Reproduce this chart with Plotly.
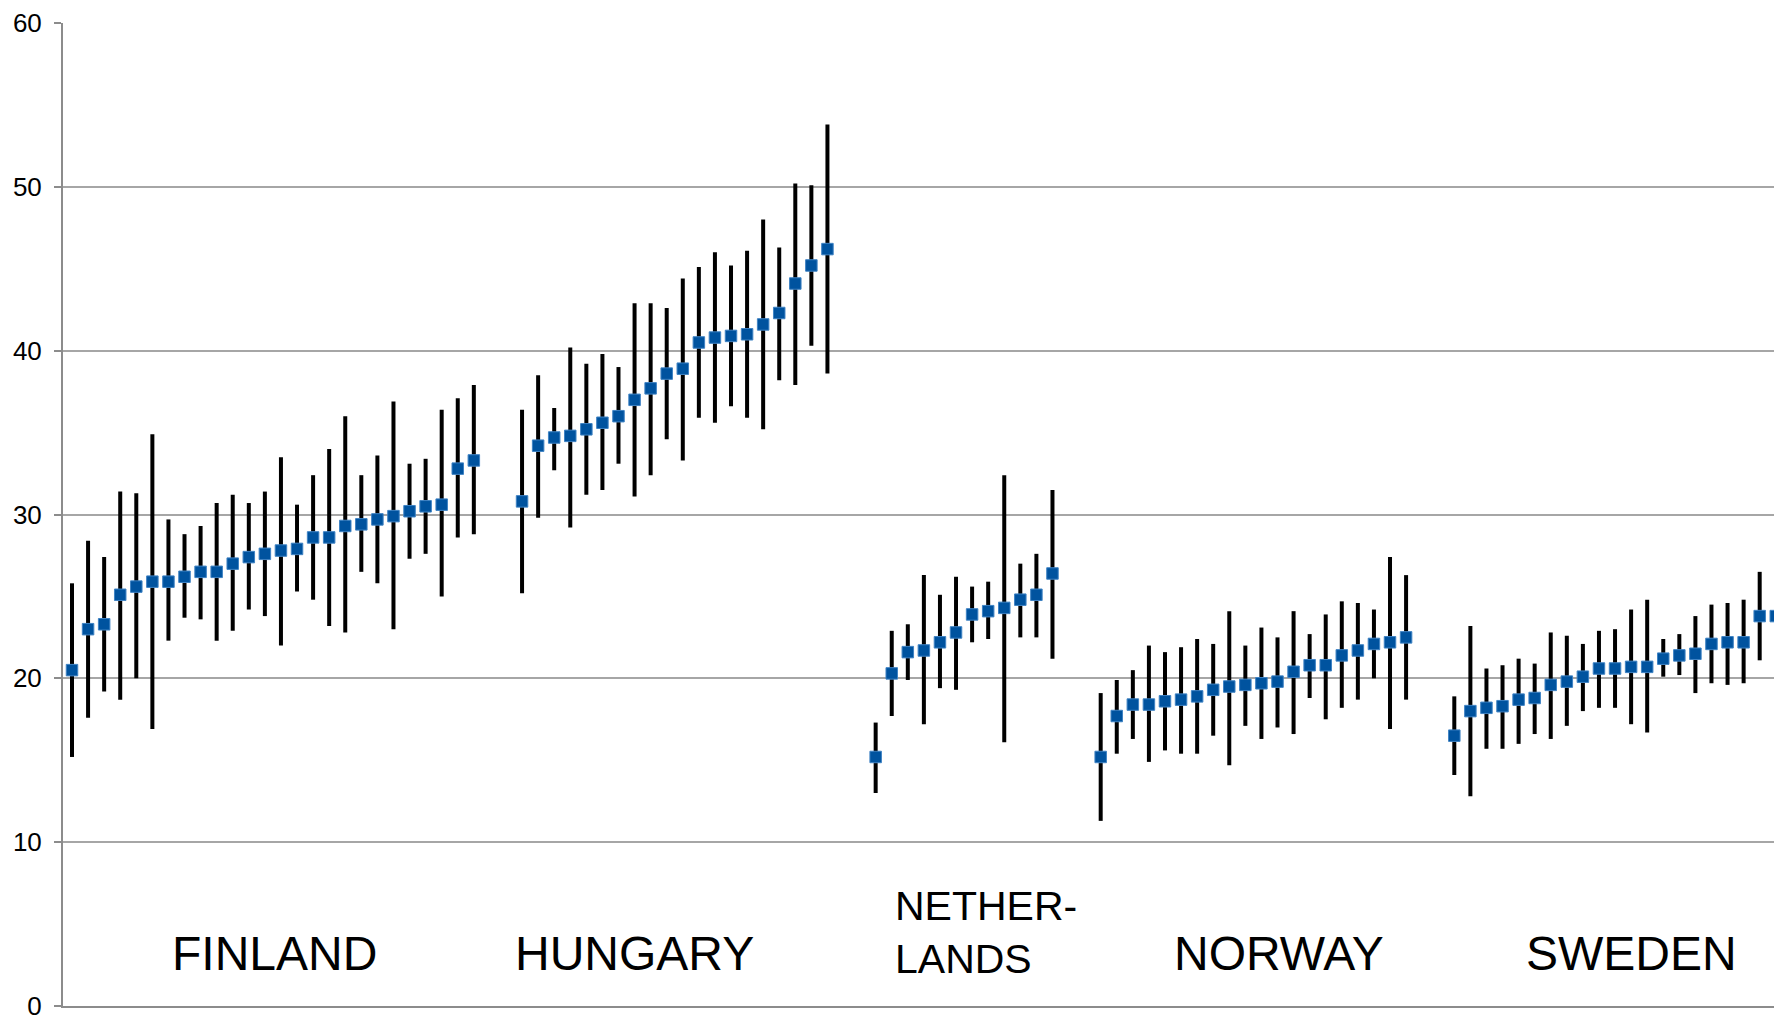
import plotly.graph_objects as go

countries = ["FINLAND", "HUNGARY", "NETHER-<br>LANDS", "NORWAY", "SWEDEN"]

finland_mean = [20.5, 23.0, 23.3, 25.1, 25.6, 25.9, 25.9, 26.2, 26.5, 26.5, 27.0, 27.4, 27.6, 27.8,
                27.9, 28.6, 28.6, 29.3, 29.4, 29.7, 29.9, 30.2, 30.5, 30.6, 32.8, 33.3]
finland_high = [25.8, 28.4, 27.4, 31.4, 31.3, 34.9, 29.7, 28.8, 29.3, 30.7, 31.2, 30.7, 31.4, 33.5,
                30.6, 32.4, 34.0, 36.0, 32.4, 33.6, 36.9, 33.1, 33.4, 36.4, 37.1, 37.9]
finland_low = [15.2, 17.6, 19.2, 18.7, 20.0, 16.9, 22.3, 23.7, 23.6, 22.3, 22.9, 24.2, 23.8, 22.0,
               25.3, 24.8, 23.2, 22.8, 26.5, 25.8, 23.0, 27.3, 27.6, 25.0, 28.6, 28.8]

hungary_mean = [30.8, 34.2, 34.7, 34.8, 35.2, 35.6, 36.0, 37.0, 37.7, 38.6, 38.9, 40.5, 40.8, 40.9,
                41.0, 41.6, 42.3, 44.1, 45.2, 46.2]
hungary_high = [36.4, 38.5, 36.5, 40.2, 39.2, 39.8, 39.0, 42.9, 42.9, 42.6, 44.4, 45.1, 46.0, 45.2,
                46.1, 48.0, 46.3, 50.2, 50.1, 53.8]
hungary_low = [25.2, 29.8, 32.7, 29.2, 31.2, 31.5, 33.1, 31.1, 32.4, 34.6, 33.3, 35.9, 35.6, 36.6,
               35.9, 35.2, 38.2, 37.9, 40.3, 38.6]

netherlands_mean = [15.2, 20.3, 21.6, 21.7, 22.2, 22.8, 23.9, 24.1, 24.3, 24.8, 25.1, 26.4]
netherlands_high = [17.3, 22.9, 23.3, 26.3, 25.1, 26.2, 25.6, 25.9, 32.4, 27.0, 27.6, 31.5]
netherlands_low = [13.0, 17.7, 19.9, 17.2, 19.4, 19.3, 22.2, 22.4, 16.1, 22.5, 22.5, 21.2]

norway_mean = [15.2, 17.7, 18.4, 18.4, 18.6, 18.7, 18.9, 19.3, 19.5, 19.6, 19.7, 19.8, 20.4, 20.8,
               20.8, 21.4, 21.7, 22.1, 22.2, 22.5]
norway_high = [19.1, 19.9, 20.5, 22.0, 21.6, 21.9, 22.4, 22.1, 24.1, 22.0, 23.1, 22.5, 24.1, 22.7,
               23.9, 24.7, 24.6, 24.2, 27.4, 26.3]
norway_low = [11.3, 15.4, 16.3, 14.9, 15.6, 15.4, 15.4, 16.5, 14.7, 17.1, 16.3, 17.0, 16.6, 18.8,
              17.5, 18.2, 18.7, 20.0, 16.9, 18.7]

sweden_mean = [16.5, 18.0, 18.2, 18.3, 18.7, 18.8, 19.6, 19.8, 20.1, 20.6, 20.6, 20.7, 20.7, 21.2,
               21.4, 21.5, 22.1, 22.2, 22.2, 23.8, 23.8]
sweden_high = [18.9, 23.2, 20.6, 20.8, 21.2, 20.9, 22.8, 22.6, 22.1, 22.9, 23.0, 24.2, 24.8, 22.4,
               22.7, 23.8, 24.5, 24.6, 24.8, 26.5, 23.8]
sweden_low = [14.1, 12.8, 15.7, 15.7, 16.0, 16.6, 16.3, 17.1, 18.0, 18.2, 18.2, 17.2, 16.7, 20.1,
              20.2, 19.1, 19.7, 19.6, 19.7, 21.1, 23.8]

y_ticks = [0, 10, 20, 30, 40, 50, 60]

groups = [
    (finland_mean, finland_high, finland_low),
    (hungary_mean, hungary_high, hungary_low),
    (netherlands_mean, netherlands_high, netherlands_low),
    (norway_mean, norway_high, norway_low),
    (sweden_mean, sweden_high, sweden_low),
]
GAP = 2  # empty category slots between countries

xs, ys, eplus, eminus = [], [], [], []
pos = 0
for mean, high, low in groups:
    for m, h, l in zip(mean, high, low):
        xs.append(pos)
        ys.append(m)
        eplus.append(h - m)
        eminus.append(m - l)
        pos += 1
    pos += GAP

fig = go.Figure()
fig.add_trace(go.Scatter(
    x=xs, y=ys, mode="markers",
    marker=dict(opacity=0, size=2),
    error_y=dict(type="data", symmetric=False, array=eplus, arrayminus=eminus,
                 color="#000000", thickness=4, width=0),
    hoverinfo="skip", showlegend=False,
))
fig.add_trace(go.Scatter(
    x=xs, y=ys, mode="markers",
    marker=dict(symbol="square", size=11.5, color="#00539F",
                line=dict(color="#3F83C4", width=1)),
    showlegend=False,
))

label_font = dict(family="Liberation Sans, Arial, sans-serif", size=48, color="#000000")
label_pos = [(12.6, 3.2), (35.0, 3.2), (51.1, 4.5), (75.1, 3.2), (97.0, 3.2)]
for name, (lx, ly) in zip(countries, label_pos):
    if "<br>" in name:
        fig.add_annotation(x=lx, y=ly, xref="x", yref="y", text=name, showarrow=False,
                           xanchor="left", yanchor="middle", align="left",
                           font=dict(label_font, size=41))
    else:
        fig.add_annotation(x=lx, y=ly, xref="x", yref="y", text=name, showarrow=False,
                           xanchor="center", yanchor="middle", font=label_font)

fig.update_layout(
    width=1774, height=1017,
    margin=dict(l=63, r=0, t=23, b=11),
    paper_bgcolor="white", plot_bgcolor="white",
    xaxis=dict(range=[-0.56, 105.89], showgrid=False, zeroline=False,
               showticklabels=False, ticks="", showline=True,
               linecolor="#8C8C8C", linewidth=2),
    yaxis=dict(range=[0, 60], tickvals=y_ticks, showgrid=True, gridcolor="#A6A6A6",
               gridwidth=2, zeroline=False, showline=True, linecolor="#8C8C8C",
               linewidth=2, ticks="outside", ticklen=7, tickcolor="#8C8C8C",
               tickwidth=2, ticklabelstandoff=7, automargin=False,
               ticklabeloverflow="allow",
               tickfont=dict(family="Liberation Sans, Arial, sans-serif", size=26,
                             color="#000000")),
    font=dict(family="Liberation Sans, Arial, sans-serif"),
)

fig.write_html("out.html", config={"displayModeBar": False},
               post_script="document.body.style.margin='0px';document.body.style.overflow='hidden';")
